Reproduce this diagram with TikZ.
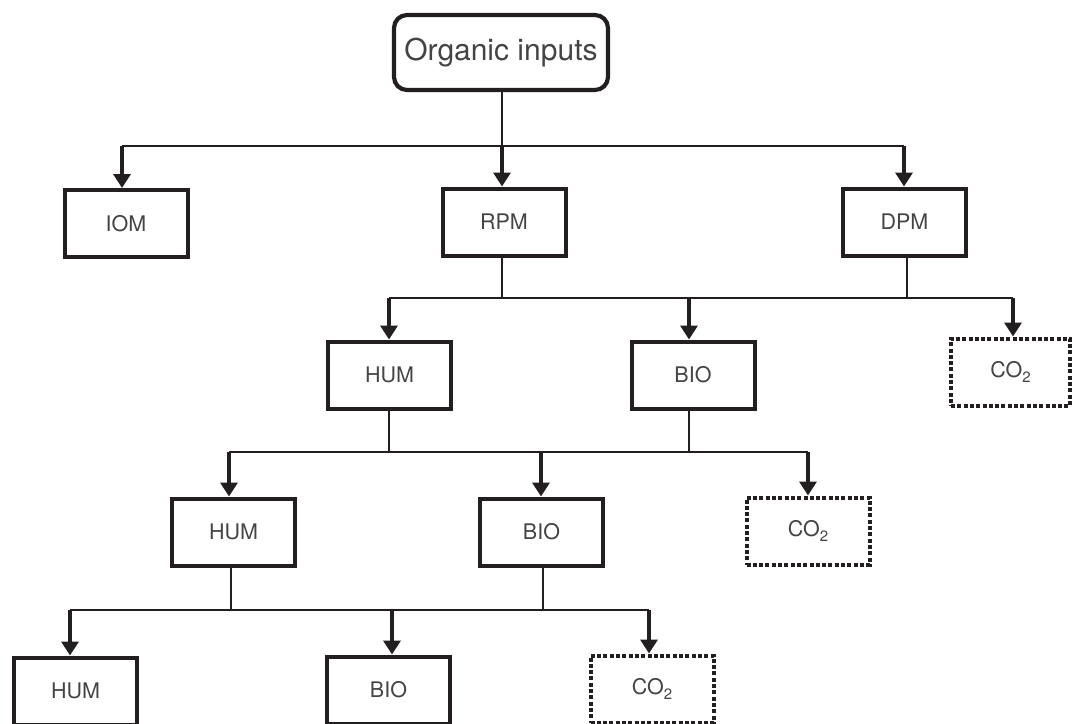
\documentclass[tikz,border=0pt]{standalone}
\usepackage{fontspec}
\setmainfont{TeX Gyre Heros}
\usetikzlibrary{arrows.meta}
\definecolor{ink}{HTML}{231F20}
\definecolor{txt}{HTML}{444444}
% carbon dioxide label with a large, well-lowered subscript
\newcommand{\carbdiox}{CO\raisebox{-5pt}{\fontsize{15}{15}\selectfont 2}}
\begin{document}
\begin{tikzpicture}[x=1pt,y=-1pt,
  pool/.style={draw=ink, line width=4pt, minimum width=123pt, minimum height=67pt,
    inner sep=0pt, text=txt, font=\fontsize{21.5}{24}\selectfont},
  gas/.style={pool, line width=4pt, dash pattern=on 4pt off 2.3pt},
  source/.style={draw=ink, line width=4.2pt, rounded corners=13pt, minimum width=214pt,
    minimum height=75pt, inner sep=0pt, text=txt, font=\fontsize{30}{33}\selectfont},
  bus/.style={draw=ink, line width=1.8pt},
  feed/.style={draw=ink, line width=4pt, -{Triangle[width=17pt,length=14pt]}},
]
\useasboundingbox (0,0) rectangle (1073,723);

% ---- pools ----
\node[source] (org) at (501,52.5) {Organic inputs};

\node[pool] (iom) at (126,223.5) {IOM};
\node[pool] (rpm) at (504,222) {RPM};
\node[pool] (dpm) at (904.5,222) {DPM};

\node[pool] (hum2) at (389.5,375) {HUM};
\node[pool] (bio2) at (693,375) {BIO};
\node[gas, minimum width=119pt] (co2a) at (1010.5,372) {\carbdiox};

\node[pool] (hum3) at (233.5,532) {HUM};
\node[pool] (bio3) at (541.5,532) {BIO};
\node[gas] (co2b) at (808,531) {\carbdiox};

\node[pool] (hum4) at (75.5,691) {HUM};
\node[pool] (bio4) at (388.5,690) {BIO};
\node[gas] (co2c) at (652,689) {\carbdiox};

% ---- junctions on the distribution lines ----
\coordinate (a1) at (122,146);  \coordinate (a2) at (502,146);  \coordinate (a3) at (904,146);
\coordinate (b1) at (389,298);  \coordinate (b2) at (689,298);  \coordinate (b3) at (1013,298);
\coordinate (br) at (502,298);  \coordinate (bd) at (907,298);
\coordinate (c1) at (229,452);  \coordinate (c2) at (541,452);  \coordinate (c3) at (808,452);
\coordinate (ch) at (389,452);  \coordinate (cb) at (689,452);
\coordinate (d1) at (70,610);   \coordinate (d2) at (392,610);  \coordinate (d3) at (649,610);
\coordinate (dh) at (231,610);  \coordinate (db) at (543,610);

% ---- level 1 ----
\draw[bus] (org.south -| a2) -- (a2);
\draw[bus] (a1) -- (a3);
\draw[feed] (a1) -- (a1 |- iom.north);
\draw[feed] (a2) -- (a2 |- rpm.north);
\draw[feed] (a3) -- (a3 |- dpm.north);

% ---- level 2 ----
\draw[bus] (rpm.south -| br) -- (br);
\draw[bus] (dpm.south -| bd) -- (bd);
\draw[bus] (b1) -- (b3);
\draw[feed] (b1) -- (b1 |- hum2.north);
\draw[feed] (b2) -- (b2 |- bio2.north);
\draw[feed] (b3) -- (b3 |- co2a.north);

% ---- level 3 ----
\draw[bus] (hum2.south -| ch) -- (ch);
\draw[bus] (bio2.south -| cb) -- (cb);
\draw[bus] (c1) -- (c3);
\draw[feed] (c1) -- (c1 |- hum3.north);
\draw[feed] (c2) -- (c2 |- bio3.north);
\draw[feed] (c3) -- (c3 |- co2b.north);

% ---- level 4 ----
\draw[bus] (hum3.south -| dh) -- (dh);
\draw[bus] (bio3.south -| db) -- (db);
\draw[bus] (d1) -- (d3);
\draw[feed] (d1) -- (d1 |- hum4.north);
\draw[feed] (d2) -- (d2 |- bio4.north);
\draw[feed] (d3) -- (d3 |- co2c.north);
\end{tikzpicture}
\end{document}
